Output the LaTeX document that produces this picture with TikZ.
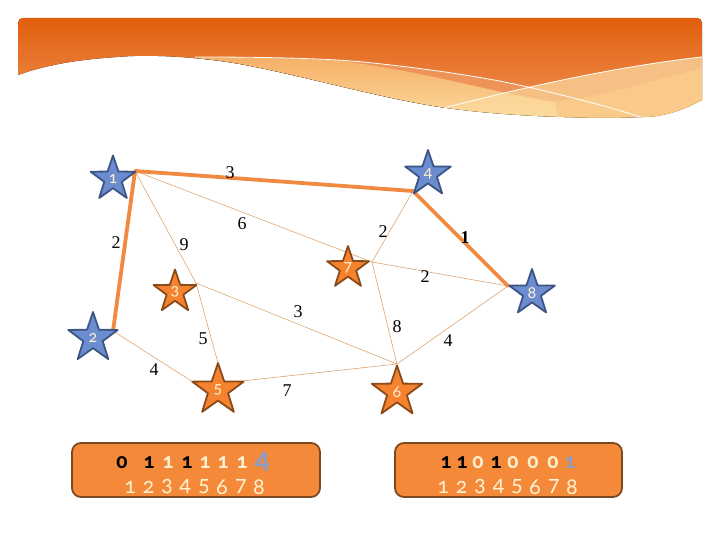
\documentclass[tikz,border=0pt]{standalone}
\usepackage{fontspec}
\setmainfont{Carlito}[Numbers=OldStyle]
\newfontfamily\wtfont{Liberation Serif}
\usetikzlibrary{shapes.geometric}
\definecolor{bandtop}{HTML}{E15F0D}
\definecolor{bandbot}{HTML}{F0955A}
\definecolor{peachmid}{HTML}{EE9458}
\definecolor{peachlow}{HTML}{F6B068}
\definecolor{peachpale}{HTML}{FCDCA0}
\definecolor{starblue}{HTML}{6C8CD0}
\definecolor{starblueline}{HTML}{3B5585}
\definecolor{starorange}{HTML}{F5822F}
\definecolor{starbrown}{HTML}{8A4A1A}
\definecolor{starnum}{HTML}{FFF0D0}
\definecolor{treeorange}{HTML}{F08A40}
\definecolor{edgetan}{HTML}{DDA574}
\definecolor{boxorange}{HTML}{F5893A}
\definecolor{boxbrown}{HTML}{7B4A20}
\definecolor{greyblue}{HTML}{8A9CC8}
\tikzset{
  vstar/.style={star, star points=5, star point ratio=2.55, inner sep=0pt,
    line width=1.8pt, text=starnum, font=\fontsize{17}{17}\selectfont},
  bstar/.style={vstar, fill=starblue, draw=starblueline},
  ostar/.style={vstar, fill=starorange, draw=starbrown},
  tree/.style={line width=3.8pt, color=treeorange},
  edge/.style={line width=0.6pt, color=edgetan},
  wt/.style={font=\wtfont\fontsize{18}{18}\selectfont},
  tbl/.style={rounded corners=9pt, fill=boxorange, draw=boxbrown, line width=1.8pt},
  dig/.style={font=\bfseries\fontsize{22}{22}\selectfont, inner sep=0pt},
  num/.style={font=\fontsize{23}{23}\selectfont, inner sep=0pt, text=starnum}
}
\begin{document}
\begin{tikzpicture}[line cap=round,line join=round,x=1pt,y=-1pt]
\useasboundingbox (0,0) rectangle (720,540);
% banner
\begin{scope}
\path[clip] (18,75) [rounded corners=5pt] -- (18,18) -- (702,18) [sharp corners] -- (702,100)
  .. controls (680,112) and (660,117) .. (643,117)
  .. controls (580,119) and (500,116) .. (440,107)
  .. controls (380,98) and (300,75) .. (240,64)
  .. controls (200,57) and (150,54) .. (117,57)
  .. controls (70,60) and (40,67) .. (18,75) -- cycle;
\fill[top color=bandtop, bottom color=bandbot] (0,18) rectangle (720,120);
\fill[top color=peachlow, bottom color=peachpale] (195,57) .. controls (260,57) and (330,58) .. (373,63)
  .. controls (420,68) and (480,76) .. (528,87)
  .. controls (580,99) and (620,110) .. (650,120) -- (190,125) -- cycle;
\fill[peachmid] (340,61) .. controls (350,62) and (362,62) .. (373,63)
  .. controls (420,68) and (480,76) .. (528,87)
  .. controls (585,75) and (640,63) .. (710,56) -- (710,66)
  .. controls (660,78) and (610,95) .. (555,102)
  .. controls (490,92) and (420,70) .. (340,61) -- cycle;
\fill[peachlow] (555,102) .. controls (610,95) and (660,78) .. (710,66) -- (710,125) -- (560,125) -- cycle;
\fill[peachpale, opacity=0.6] (443,108) .. controls (500,94) and (600,68) .. (710,56)
  -- (710,125) -- (443,125) -- cycle;
\draw[white, line width=0.8pt] (195,57) .. controls (260,57) and (330,58) .. (373,63)
  .. controls (420,68) and (480,76) .. (528,87)
  .. controls (580,99) and (620,110) .. (650,120);
\draw[white, line width=0.8pt] (443,108) .. controls (500,94) and (600,68) .. (710,56);
\end{scope}
% graph points
\coordinate (v1) at (135,171);
\coordinate (v2) at (113,331);
\coordinate (v3) at (196,283);
\coordinate (v4) at (413,191);
\coordinate (v5) at (218,363);
\coordinate (v5l) at (193,382);
\coordinate (v5r) at (242,381);
\coordinate (v6) at (397,364);
\coordinate (v7) at (372,262);
\coordinate (v8) at (508,286);
% edges
\draw [edge] (v1)-- (v3);
\draw [edge] (v1)-- (v7);
\draw [edge] (v4)-- (v7);
\draw [edge] (v7)-- (v8);
\draw [edge] (v7)-- (v6);
\draw [edge] (v3)-- (v6);
\draw [edge] (v3)-- (v5);
\draw [edge] (v2)-- (v5l);
\draw [edge] (v5r)-- (v6);
\draw [edge] (v6)-- (v8);
\draw [tree] (v2)-- (v1)-- (v4)-- (v8);
% weights
\node[wt] (w14) at (230,173) {3};
\node[wt] (w48) at (465,238) {\bfseries 1};
\node[wt] (w17) at (242,224) {6};
\node[wt] (w13) at (184,245) {9};
\node[wt] (w12) at (116,243) {2};
\node[wt] (w47) at (383,232) {2};
\node[wt] (w78) at (425,277) {2};
\node[wt] (w36) at (298,312) {3};
\node[wt] (w76) at (397,327) {8};
\node[wt] (w68) at (448,341) {4};
\node[wt] (w35) at (203,339) {5};
\node[wt] (w25) at (154,370) {4};
\node[wt] (w56) at (287,391) {7};
% stars
\node[bstar, minimum size=47pt] (s1) at (113,179) {1};
\node[bstar, minimum size=52pt] (s2) at (93,338) {2};
\node[ostar, minimum size=45pt] (s3) at (175,292) {3};
\node[bstar, minimum size=48pt] (s4) at (428,174) {4};
\node[ostar, minimum size=54pt] (s5) at (218,390) {5};
\node[ostar, minimum size=53pt] (s6) at (397,392) {6};
\node[ostar, minimum size=44pt] (s7) at (348,268) {7};
\node[bstar, minimum size=48pt] (s8) at (532,293) {8};
% left table
\draw [tbl] (72,443) rectangle (320,497);
\node[dig, text=black] (a1) at (122,463) {0};
\node[dig, text=black] (a2) at (149,463) {1};
\node[dig, text=starnum] (a3) at (168,463) {1};
\node[dig, text=black] (a4) at (187,463) {1};
\node[dig, text=starnum] (a5) at (205,463) {1};
\node[dig, text=starnum] (a6) at (223,463) {1};
\node[dig, text=starnum] (a7) at (242,463) {1};
\node[dig, text=greyblue, font=\bfseries\fontsize{30}{30}\selectfont] (a8) at (262,462) {4};
\node[num] (b1) at (130,487) {1};
\node[num] (b2) at (148.5,487) {2};
\node[num] (b3) at (167,487) {3};
\node[num] (b4) at (185,487) {4};
\node[num] (b5) at (204,487) {5};
\node[num] (b6) at (222,487) {6};
\node[num] (b7) at (241,487) {7};
\node[num] (b8) at (259,487) {8};
% right table
\draw [tbl] (395,443) rectangle (622,497);
\node[dig, text=black] (c1) at (446,463) {1};
\node[dig, text=black] (c2) at (462,463) {1};
\node[dig, text=starnum] (c3) at (478,463) {0};
\node[dig, text=black] (c4) at (496,463) {1};
\node[dig, text=starnum] (c5) at (513,463) {0};
\node[dig, text=starnum] (c6) at (533,463) {0};
\node[dig, text=starnum] (c7) at (553,463) {0};
\node[dig, text=greyblue] (c8) at (570,463) {1};
\node[num] (d1) at (443,487) {1};
\node[num] (d2) at (461.5,487) {2};
\node[num] (d3) at (480,487) {3};
\node[num] (d4) at (498.5,487) {4};
\node[num] (d5) at (517,487) {5};
\node[num] (d6) at (535,487) {6};
\node[num] (d7) at (554,487) {7};
\node[num] (d8) at (572,487) {8};
\end{tikzpicture}
\end{document}
